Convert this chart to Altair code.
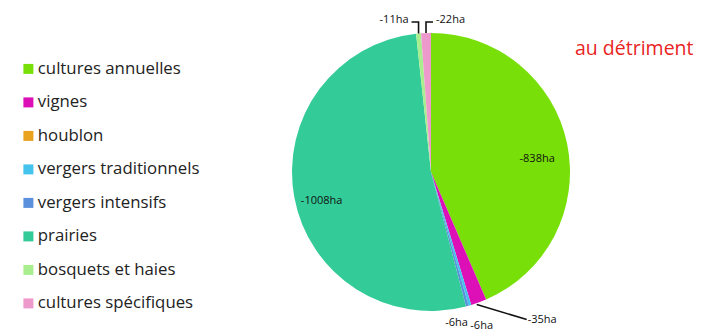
import math
import altair as alt
import pandas as pd

# ---- data ----
categories = ["cultures annuelles", "vignes", "houblon", "vergers traditionnels",
              "vergers intensifs", "prairies", "bosquets et haies", "cultures spécifiques"]
values = [838, 35, 0, 6, 6, 1008, 11, 22]
labels = ["-838ha", "-35ha", "", "-6ha", "-6ha", "-1008ha", "-11ha", "-22ha"]
colors = ["#78E008", "#DD10B8", "#E8A21E", "#44C4EC", "#5A90DC", "#33CC99", "#A8EE8E", "#EE99CC"]

R = 139  # pie radius in px (plot area is 2R x 2R)
FONT = "Open Sans"

df = pd.DataFrame({"cat": categories, "value": values, "order": range(len(categories))})

# label geometry derived from slice angles
total = sum(values)
cum = 0
mids = []
for v in values:
    mids.append((cum + v / 2) / total * 2 * math.pi)
    cum += v

def polar(a, r):
    return r * math.sin(a), r * math.cos(a)

INSIDE = {"cultures annuelles": 0.78, "prairies": 0.8}
text_rows = []
line_rows = []
for i, (c, lab) in enumerate(zip(categories, labels)):
    if not lab:
        continue
    a = mids[i]
    ex, ey = polar(a, R)
    if c in INSIDE:
        x, y = polar(a, R * INSIDE[c])
        text_rows.append({"cat": c, "label": lab, "x": x, "y": y - 9, "align": "center"})
    elif c == "vignes":
        lx, ly = ex + 48, ey - 17
        line_rows += [{"cat": c, "i": 0, "x": ex - 2, "y": ey - 2}, {"cat": c, "i": 1, "x": lx, "y": ly}]
        text_rows.append({"cat": c, "label": lab, "x": lx + 1, "y": ly, "align": "left"})
    elif c in ("bosquets et haies", "cultures spécifiques"):
        side = -1 if c == "bosquets et haies" else 1
        line_rows += [{"cat": c, "i": 0, "x": ex, "y": ey},
                      {"cat": c, "i": 1, "x": ex, "y": 150},
                      {"cat": c, "i": 2, "x": ex + side * 7, "y": 150}]
        text_rows.append({"cat": c, "label": lab, "x": ex + side * 10, "y": 152,
                          "align": "right" if side < 0 else "left"})
    elif c == "vergers traditionnels":
        text_rows.append({"cat": c, "label": lab, "x": ex - 2, "y": ey - 18, "align": "right"})
    elif c == "vergers intensifs":
        text_rows.append({"cat": c, "label": lab, "x": ex + 3, "y": ey - 20, "align": "left"})

tdf = pd.DataFrame(text_rows)
ldf = pd.DataFrame(line_rows)

xs = alt.Scale(domain=[-R, R], range=[0, 2 * R])
ys = alt.Scale(domain=[-R, R], range=[2 * R, 0])

pie = alt.Chart(df).mark_arc().encode(
    theta=alt.Theta("value:Q", stack=True),
    order=alt.Order("order:Q"),
    color=alt.Color("cat:N", sort=categories,
                    scale=alt.Scale(domain=categories, range=colors),
                    legend=alt.Legend(
                        title=None, orient="none", legendX=-272, legendY=27.5,
                        symbolType="square", symbolSize=100, symbolStrokeWidth=0,
                        labelFont=FONT, labelFontSize=16.8, labelColor="#222222",
                        labelOffset=1, rowPadding=15.5, labelLimit=300)),
)

lines = alt.Chart(ldf).mark_line(color="#111111", strokeWidth=1.6).encode(
    x=alt.X("x:Q", scale=xs, axis=None),
    y=alt.Y("y:Q", scale=ys, axis=None),
    detail="cat:N",
    order="i:Q",
)

def text_layer(align):
    return alt.Chart(tdf).transform_filter(alt.datum.align == align).mark_text(
        align=align, baseline="middle", font=FONT, fontSize=11, color="#111111"
    ).encode(
        x=alt.X("x:Q", scale=xs, axis=None),
        y=alt.Y("y:Q", scale=ys, axis=None),
        text="label:N",
    )

chart = alt.layer(pie, lines, text_layer("center"), text_layer("left"), text_layer("right")).properties(
    width=2 * R, height=2 * R,
    background="white",
    autosize=alt.AutoSizeParams(type="none"),
    padding={"left": 284, "top": 25, "right": 126, "bottom": 20},
    title=alt.Title("au détriment", anchor="start", frame="group", dx=283, dy=64,
                    color="#E8251F", font=FONT, fontSize=19.5, fontWeight="normal",
                    baseline="alphabetic"),
).configure_view(strokeWidth=0, stroke="transparent")

chart.save("out.html", embed_options={"renderer": "svg", "actions": False})
